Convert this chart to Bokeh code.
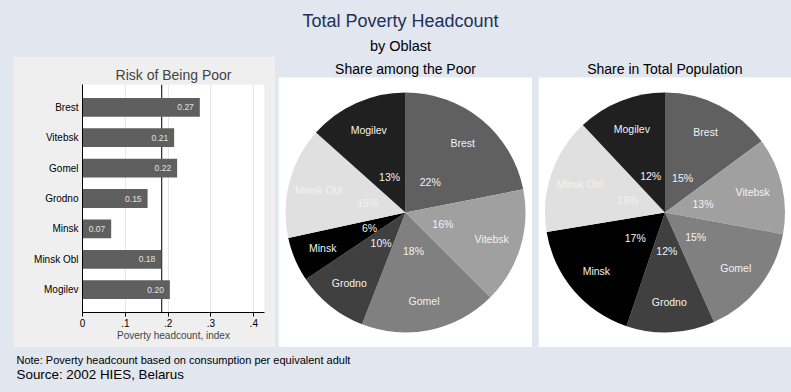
import math
from bokeh.plotting import figure
from bokeh.layouts import column, row
from bokeh.models import Range1d, FixedTicker, Span, Spacer, ColumnDataSource
from bokeh.core.properties import value
from bokeh.embed import file_html
from bokeh.resources import INLINE

# ---------------- data ----------------
oblasts = ["Brest", "Vitebsk", "Gomel", "Grodno", "Minsk", "Minsk Obl", "Mogilev"]
risk_of_poor = [0.274, 0.214, 0.221, 0.152, 0.067, 0.184, 0.204]
overall_rate = 0.185
share_among_poor = [21.9, 15.6, 18.4, 9.7, 6.0, 15.0, 13.4]
share_in_population = [14.9, 13.0, 15.4, 11.9, 17.2, 15.6, 12.0]
slice_colors = ["#606060", "#a0a0a0", "#808080", "#404040", "#000000", "#e0e0e0", "#202020"]
x_ticks = [0, 0.1, 0.2, 0.3, 0.4]
x_tick_labels = ["0", ".1", ".2", ".3", ".4"]

BG = "#e1e6ef"
PANEL = "#efefef"
FONT = "Liberation Sans"

# ---------------- header ----------------
header = figure(width=791, height=56, x_range=Range1d(0, 791), y_range=Range1d(56, 0),
                x_axis_location=None, y_axis_location=None, toolbar_location=None,
                output_backend="svg", min_border=0, background_fill_color=BG,
                border_fill_color=BG, outline_line_color=None)
header.grid.visible = False
header.text(x=[400], y=[20], text=["Total Poverty Headcount"], text_font=value(FONT),
            text_font_size="18px", text_color="#1f3158", text_align="center",
            text_baseline="middle")
header.text(x=[400], y=[45], text=["by Oblast"], text_font=value(FONT),
            text_font_size="14.5px", text_color="#000000", text_align="center",
            text_baseline="middle")

# ---------------- bar chart ----------------
ypos = list(range(1, len(oblasts) + 1))
bar_src = ColumnDataSource(dict(y=ypos, v=risk_of_poor,
                                lab=[f"{v:.2f}" for v in risk_of_poor]))
bar = figure(width=262, height=291, x_range=Range1d(0, 0.425),
             y_range=Range1d(len(oblasts) + 0.75, 0.25),
             toolbar_location=None, output_backend="svg",
             min_border_left=69, min_border_right=11, min_border_top=28,
             min_border_bottom=35, background_fill_color="white",
             border_fill_color=PANEL, outline_line_color=None,
             title="Risk of Being Poor")
bar.title.text_font = FONT
bar.title.text_font_size = "14px"
bar.title.text_font_style = "normal"
bar.title.align = "center"
bar.title.standoff = 3

bar.add_layout(Span(location=overall_rate, dimension="height",
                    line_color="#000000", line_width=1, level="underlay"))
bar.hbar(y="y", right="v", left=0, height=0.62, source=bar_src,
         fill_color="#5f5f5f", line_color=None)
bar.text(x="v", y="y", text="lab", source=bar_src, x_offset=-6,
         text_align="right", text_baseline="middle", text_font=value(FONT),
         text_font_size="8.5px", text_color="#e2e2e2")

bar.xaxis.ticker = FixedTicker(ticks=x_ticks)
bar.xaxis.major_label_overrides = dict(zip(x_ticks, x_tick_labels))
bar.xaxis.axis_label = "Poverty headcount, index"
bar.xaxis.axis_label_text_font = FONT
bar.xaxis.axis_label_text_font_style = "normal"
bar.xaxis.axis_label_text_font_size = "10px"
bar.xaxis.axis_label_standoff = 0
bar.xaxis.major_label_standoff = 2
bar.xaxis.major_tick_out = 4
bar.xaxis.major_tick_in = 0
bar.xaxis.minor_tick_line_color = None

bar.yaxis.ticker = FixedTicker(ticks=ypos)
bar.yaxis.major_label_overrides = dict(zip(ypos, oblasts))
bar.yaxis.major_tick_out = 0
bar.yaxis.major_tick_in = 0
bar.yaxis.minor_tick_line_color = None
bar.yaxis.major_label_standoff = 4

for ax in (bar.xaxis, bar.yaxis):
    ax.major_label_text_font = FONT
    ax.major_label_text_font_size = "10px"
    ax.major_label_text_color = "#000000"
    ax.axis_line_color = "#000000"
    ax.major_tick_line_color = "#000000"

bar.xgrid.grid_line_color = "#e6e6e6"
bar.ygrid.grid_line_color = None


# ---------------- pies ----------------
PIE_TOP = 21      # px of title band above the white panel
PANEL_H = 270     # px height of the white panel


def make_pie(title, shares, width, left_border):
    frame_w = width - left_border
    half_w = frame_w / 2
    half_h = PANEL_H / 2
    p = figure(width=width, height=PANEL_H + PIE_TOP,
               x_range=Range1d(-half_w, half_w),
               y_range=Range1d(-half_h, half_h + PIE_TOP),
               x_axis_location=None, y_axis_location=None, toolbar_location=None,
               output_backend="svg", min_border_left=left_border, min_border_right=0,
               min_border_top=0, min_border_bottom=0, background_fill_color=BG,
               border_fill_color=BG, outline_line_color=None)
    p.grid.visible = False
    # white panel behind the pie
    p.quad(left=[-half_w], right=[half_w], bottom=[-half_h], top=[half_h],
           fill_color="white", line_color=None)
    p.text(x=[0], y=[half_h + 9], text=[title], text_align="center",
           text_baseline="middle", text_font=value(FONT), text_font_size="14px",
           text_color="#000000")

    total = sum(shares)
    cum = 0.0
    starts, ends, nx, ny, px, py, pct = [], [], [], [], [], [], []
    for s in shares:
        a0 = cum / total
        cum += s
        a1 = cum / total
        starts.append(math.pi / 2 - 2 * math.pi * a0)
        ends.append(math.pi / 2 - 2 * math.pi * a1)
        mid = math.pi * (a0 + a1)
        nx.append(90 * math.sin(mid))
        ny.append(90 * math.cos(mid))
        px.append(39 * math.sin(mid))
        py.append(39 * math.cos(mid))
        pct.append(f"{round(s)}%")
    src = ColumnDataSource(dict(x=[0] * len(shares), y=[0] * len(shares),
                                start=starts, end=ends, color=slice_colors,
                                nx=nx, ny=ny, px=px, py=py, name=oblasts, pct=pct))
    p.wedge(x="x", y="y", radius=120, start_angle="start", end_angle="end",
            direction="clock", fill_color="color", line_color=None, source=src)
    p.text(x="nx", y="ny", text="name", source=src, text_align="center",
           text_baseline="middle", text_font=value(FONT), text_font_size="10.5px",
           text_color="#f2f2f2")
    p.text(x="px", y="py", text="pct", source=src, text_align="center",
           text_baseline="middle", text_font=value(FONT), text_font_size="10.5px",
           text_color="#f2f2f2")
    return p


pie1 = make_pie("Share among the Poor", share_among_poor, 257, 3)
pie2 = make_pie("Share in Total Population", share_in_population, 259, 6)

# ---------------- footer ----------------
footer = figure(width=791, height=45, x_range=Range1d(0, 791), y_range=Range1d(45, 0),
                x_axis_location=None, y_axis_location=None, toolbar_location=None,
                output_backend="svg", min_border=0, background_fill_color=BG,
                border_fill_color=BG, outline_line_color=None)
footer.grid.visible = False
footer.text(x=[16], y=[12], text=["Note: Poverty headcount based on consumption per equivalent adult"],
            text_font=value(FONT), text_font_size="11px", text_color="#000000",
            text_align="left", text_baseline="middle")
footer.text(x=[16], y=[27], text=["Source: 2002 HIES, Belarus"],
            text_font=value(FONT), text_font_size="13.4px", text_color="#000000",
            text_align="left", text_baseline="middle")

left_gap = Spacer(width=13, height=291, styles={"background-color": BG})
# wrap each plot in its own column so that the row does not align their frames
mid_row = row(left_gap, column(bar), column(pie1), column(pie2),
              spacing=0, styles={"background-color": BG})
layout = column(header, mid_row, footer, spacing=0, styles={"background-color": BG})

open("out.html", "w").write(file_html(layout, INLINE))
